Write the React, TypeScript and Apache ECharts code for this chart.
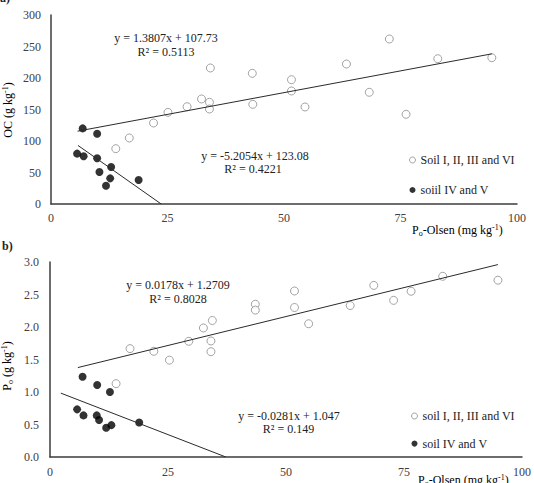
import React, { useEffect, useRef } from 'react';
import * as echarts from 'echarts';

const FONT = '"Liberation Serif", "Times New Roman", serif';

// ---- data: chart a) OC vs Po-Olsen ----
const openXA = [13.9, 16.8, 22.0, 25.1, 29.2, 32.3, 34.0, 34.0, 34.2, 43.2, 43.3, 51.6, 51.6, 54.5, 63.4, 68.3, 72.6, 76.2, 83.0, 94.6];
const openYA = [87.8, 104.8, 128.6, 145.5, 154.4, 166.7, 161.4, 150.8, 215.9, 207.4, 158.2, 197.3, 179.4, 154, 222.2, 177.3, 261.9, 142.4, 230.6, 232.2];
const blackXA = [6.8, 9.9, 5.6, 7.0, 9.9, 12.9, 10.4, 12.7, 11.8, 18.8];
const blackYA = [120, 111.6, 80, 75.7, 72.5, 58.7, 50.8, 40.7, 29, 38];

// ---- data: chart b) Po vs Po-Olsen ----
const openXB = [14.0, 16.95, 22.0, 25.3, 29.4, 32.5, 34.1, 34.4, 34.1, 43.5, 43.5, 51.8, 51.8, 54.8, 63.6, 68.6, 72.8, 76.5, 83.2, 94.9];
const openYB = [1.128, 1.667, 1.626, 1.49, 1.78, 1.985, 1.785, 2.1, 1.62, 2.35, 2.26, 2.554, 2.3, 2.05, 2.33, 2.64, 2.41, 2.55, 2.78, 2.72];
const blackXB = [6.9, 10.0, 12.7, 5.75, 7.1, 9.9, 10.4, 11.9, 13.0, 18.9];
const blackYB = [1.235, 1.108, 1.0, 0.733, 0.64, 0.64, 0.57, 0.45, 0.49, 0.53];

// ---- trend lines: [open A, black A, open B, black B] ----
const trendSlope = [1.3807, -5.2054, 0.0178, -0.0281];
const trendIntercept = [107.73, 123.08, 1.2709, 1.047];
const trendXStart = [5.7, 5.8, 5.9, 2.3];
const trendXEnd = [94.6, 23.65, 94.9, 37.26];
const trendEq = ['y = 1.3807x + 107.73', 'y = -5.2054x + 123.08', 'y = 0.0178x + 1.2709', 'y = -0.0281x + 1.047'];
const trendR2 = ['R² = 0.5113', 'R² = 0.4221', 'R² = 0.8028', 'R² = 0.149'];

const seriesNamesA = ['Soil I, II, III and VI', 'soiil IV and V'];
const seriesNamesB = ['soil I, II, III and VI', 'soil IV and V'];

const xTicks = [0, 25, 50, 75, 100];

const zip = (xs: number[], ys: number[]) => xs.map((x, i) => [x, ys[i]]);
const trendData = (i: number) => [
  [trendXStart[i], trendSlope[i] * trendXStart[i] + trendIntercept[i]],
  [trendXEnd[i], trendSlope[i] * trendXEnd[i] + trendIntercept[i]],
];

const AXIS_COLOR = '#3c3c3c';
const LABEL_COLOR = '#404040';
const TEXT_COLOR = '#222';

export default function App() {
  const ref = useRef<HTMLDivElement>(null);
  useEffect(() => {
    if (!ref.current) return;
    const chart = echarts.init(ref.current, undefined, { renderer: 'svg' });

    const openStyle = { color: '#ffffff', borderColor: '#8c8c8c', borderWidth: 1 };
    const blackStyle = { color: '#000000', borderColor: '#000000', borderWidth: 0 };
    const axisLine = { show: true, lineStyle: { color: AXIS_COLOR, width: 1.5 } };
    const axisLabel = { fontFamily: FONT, fontSize: 12, color: LABEL_COLOR };

    const xAxisBase = (gridIndex: number, margin: number) => ({
      type: 'value',
      gridIndex,
      min: xTicks[0],
      max: xTicks[xTicks.length - 1],
      interval: 25,
      axisLine,
      axisTick: { show: false },
      splitLine: { show: false },
      axisLabel: { ...axisLabel, margin },
    });

    const richText = {
      sup: { fontFamily: FONT, fontSize: 8, color: TEXT_COLOR, verticalAlign: 'top', lineHeight: 14 },
      sub: { fontFamily: FONT, fontSize: 8, color: TEXT_COLOR, verticalAlign: 'bottom', lineHeight: 14 },
      n: { fontFamily: FONT, fontSize: 12, color: TEXT_COLOR, lineHeight: 14 },
    };

    const txt = (x: number, y: number, text: string, extra: any = {}) => ({
      type: 'text',
      x,
      y,
      style: {
        text,
        fontFamily: FONT,
        fontSize: 12,
        fill: TEXT_COLOR,
        align: 'center',
        verticalAlign: 'middle',
        ...extra,
      },
    });

    const legendText = { fontFamily: FONT, fontSize: 12, color: TEXT_COLOR, lineHeight: 14 };

    chart.setOption({
      animation: false,
      backgroundColor: '#ffffff',
      grid: [
        { left: 51, top: 15, width: 466, height: 189 },
        { left: 50, top: 262, width: 473, height: 195 },
      ],
      xAxis: [xAxisBase(0, 8), xAxisBase(1, 9)],
      yAxis: [
        {
          type: 'value', gridIndex: 0, min: 0, max: 300, interval: 50,
          axisLine, axisTick: { show: false }, splitLine: { show: false },
          axisLabel: { ...axisLabel, margin: 10 },
        },
        {
          type: 'value', gridIndex: 1, min: 0, max: 3, interval: 0.5,
          axisLine, axisTick: { show: false }, splitLine: { show: false },
          axisLabel: { ...axisLabel, margin: 11, formatter: (v: number) => v.toFixed(1) },
        },
      ],
      legend: [
        {
          data: [
            { name: seriesNamesA[0], itemStyle: openStyle },
            { name: seriesNamesA[1], itemStyle: blackStyle },
          ],
          orient: 'vertical', left: 409, top: 153, padding: 0,
          itemWidth: 6, itemHeight: 6, itemGap: 16, icon: 'circle',
          textStyle: legendText,
        },
        {
          data: [
            { name: seriesNamesB[0], itemStyle: openStyle },
            { name: seriesNamesB[1], itemStyle: blackStyle },
          ],
          orient: 'vertical', left: 411, top: 409, padding: 0,
          itemWidth: 6, itemHeight: 6, itemGap: 13.6, icon: 'circle',
          textStyle: legendText,
        },
      ],
      series: [
        { name: seriesNamesA[0], type: 'scatter', xAxisIndex: 0, yAxisIndex: 0, symbolSize: 8, itemStyle: openStyle, data: zip(openXA, openYA) },
        { name: seriesNamesA[1], type: 'scatter', xAxisIndex: 0, yAxisIndex: 0, symbolSize: 8, itemStyle: blackStyle, data: zip(blackXA, blackYA) },
        { name: seriesNamesB[0], type: 'scatter', xAxisIndex: 1, yAxisIndex: 1, symbolSize: 8, itemStyle: openStyle, data: zip(openXB, openYB) },
        { name: seriesNamesB[1], type: 'scatter', xAxisIndex: 1, yAxisIndex: 1, symbolSize: 8, itemStyle: blackStyle, data: zip(blackXB, blackYB) },
        ...[0, 1, 2, 3].map((i) => ({
          name: 'trend' + i,
          type: 'line',
          xAxisIndex: i < 2 ? 0 : 1,
          yAxisIndex: i < 2 ? 0 : 1,
          symbol: 'none',
          silent: true,
          lineStyle: { color: '#2a2a2a', width: 1 },
          data: trendData(i),
          z: 3,
        })),
      ],
      graphic: [
        txt(0, -8, 'a)', { align: 'left', verticalAlign: 'top', fontWeight: 'bold' }),
        txt(2, 240, 'b)', { align: 'left', verticalAlign: 'top', fontWeight: 'bold' }),
        {
          type: 'text', x: 8, y: 110, rotation: Math.PI / 2,
          style: { text: '{n|OC (g kg}{sup|-1}{n|)}', rich: richText, align: 'center', verticalAlign: 'middle' },
        },
        {
          type: 'text', x: 7, y: 366, rotation: Math.PI / 2,
          style: { text: '{n|P}{sub|o}{n| (g kg}{sup|-1}{n|)}', rich: richText, align: 'center', verticalAlign: 'middle' },
        },
        {
          type: 'text', x: 412, y: 230,
          style: { text: '{n|P}{sub|o}{n|-Olsen (mg kg}{sup|-1}{n|)}', rich: richText, align: 'left', verticalAlign: 'middle' },
        },
        {
          type: 'text', x: 418, y: 480,
          style: { text: '{n|P}{sub|o}{n|-Olsen (mg kg}{sup|-1}{n|)}', rich: richText, align: 'left', verticalAlign: 'middle' },
        },
        txt(166, 38, trendEq[0]),
        txt(166, 52, trendR2[0]),
        txt(255, 156, trendEq[1]),
        txt(253, 168.5, trendR2[1]),
        txt(178, 285, trendEq[2]),
        txt(178, 298.5, trendR2[2]),
        txt(289, 416, trendEq[3]),
        txt(288.5, 429, trendR2[3]),
      ],
    });
    return () => chart.dispose();
  }, []);
  return <div ref={ref} style={{ position: 'absolute', left: 0, top: 0, width: 534, height: 483 }} />;
}
